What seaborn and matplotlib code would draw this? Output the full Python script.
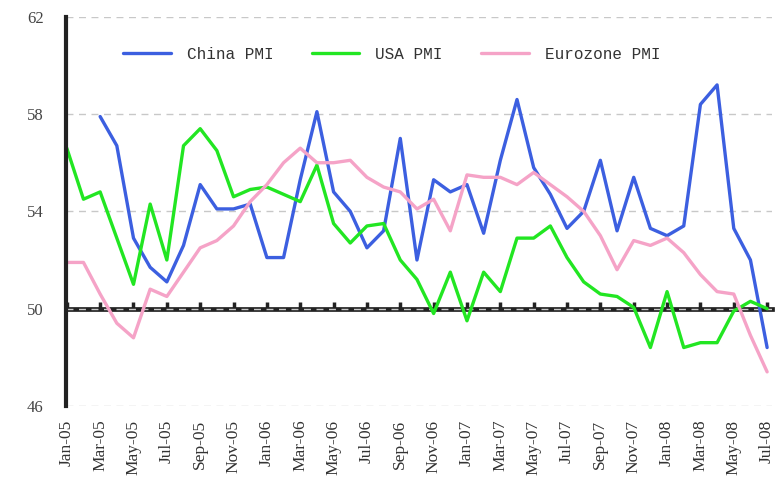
import matplotlib.pyplot as plt
import seaborn as sns
import pandas as pd
import numpy as np

months = pd.date_range('2005-01-01', '2008-07-01', freq='MS')
month_labels = [d.strftime('%b-%y') for d in months]

china_pmi = [np.nan, np.nan,
             57.9, 56.7, 52.9, 51.7, 51.1, 52.6, 55.1, 54.1, 54.1, 54.3,
             52.1, 52.1, 55.3, 58.1, 54.8, 54.0, 52.5, 53.2, 57.0, 52.0, 55.3, 54.8,
             55.1, 53.1, 56.1, 58.6, 55.8, 54.7, 53.3, 54.0, 56.1, 53.2, 55.4, 53.3,
             53.0, 53.4, 58.4, 59.2, 53.3, 52.0, 48.4]
usa_pmi = [56.6, 54.5, 54.8, 52.9, 51.0, 54.3, 52.0, 56.7, 57.4, 56.5, 54.6, 54.9,
           55.0, 54.7, 54.4, 55.9, 53.5, 52.7, 53.4, 53.5, 52.0, 51.2, 49.8, 51.5,
           49.5, 51.5, 50.7, 52.9, 52.9, 53.4, 52.1, 51.1, 50.6, 50.5, 50.05, 48.4,
           50.7, 48.4, 48.6, 48.6, 49.9, 50.3, 50.0]
euro_pmi = [51.9, 51.9, 50.6, 49.4, 48.8, 50.8, 50.5, 51.5, 52.5, 52.8, 53.4, 54.4,
            55.1, 56.0, 56.6, 56.0, 56.0, 56.1, 55.4, 55.0, 54.8, 54.1, 54.5, 53.2,
            55.5, 55.4, 55.4, 55.1, 55.6, 55.1, 54.6, 54.0, 53.0, 51.6, 52.8, 52.6,
            52.9, 52.3, 51.4, 50.7, 50.6, 48.9, 47.4]

series_names = ['China PMI', 'USA PMI', 'Eurozone PMI']
colors = ['#3c5fe0', '#22e622', '#f5a3c7']

df = pd.DataFrame({
    'month': np.tile(np.arange(len(months)), 3),
    'pmi': china_pmi + usa_pmi + euro_pmi,
    'series': np.repeat(series_names, len(months)),
})

sns.set_style('white')
plt.rcParams['font.family'] = ['Liberation Serif', 'DejaVu Serif']

fig = plt.figure(figsize=(7.76, 4.95), dpi=100)
ax = fig.add_axes([0.085, 0.18, 0.91, 0.786])

sns.lineplot(data=df, x='month', y='pmi', hue='series', hue_order=series_names,
             palette=colors, linewidth=2.4, ax=ax)

ax.set_xlim(-0.05, 42.3)
ax.set_ylim(46, 62)
ax.set_yticks([46, 50, 54, 58, 62])
ax.yaxis.grid(True, linestyle=(0, (5, 4)), color='#c8c8c8', linewidth=1)
ax.xaxis.grid(False)
ax.set_xlabel('')
ax.set_ylabel('')

tick_pos = np.arange(0, len(months), 2)
ax.set_xticks(tick_pos)
ax.set_xticklabels([month_labels[i] for i in tick_pos], rotation=90,
                   fontsize=12.5, color='#333333')
ax.tick_params(axis='x', length=0, pad=10)
ax.tick_params(axis='y', direction='in', length=5, width=2.5, color='#222222',
               labelsize=12, labelcolor='#444444', pad=16)

for side in ['top', 'right', 'bottom']:
    ax.spines[side].set_visible(False)
ax.spines['left'].set_linewidth(3)
ax.spines['left'].set_color('#222222')

# thick reference line at 50 with small tick bumps
ref = ax.secondary_xaxis((50 - 46) / 16)
ref.set_xticks(tick_pos)
ref.set_xticklabels([])
ref.tick_params(direction='in', length=5, width=2.5, color='#222222')
ref.spines['bottom'].set_linewidth(3.4)
ref.spines['bottom'].set_color('#222222')

leg = ax.legend(loc='upper left', bbox_to_anchor=(0.06, 0.96), ncol=3, frameon=False,
                handlelength=3.0, columnspacing=2.4, handletextpad=1.0,
                prop={'family': 'Liberation Mono', 'size': 11.5})
for t in leg.get_texts():
    t.set_color('#333333')

fig.savefig('out.png', dpi=100)
